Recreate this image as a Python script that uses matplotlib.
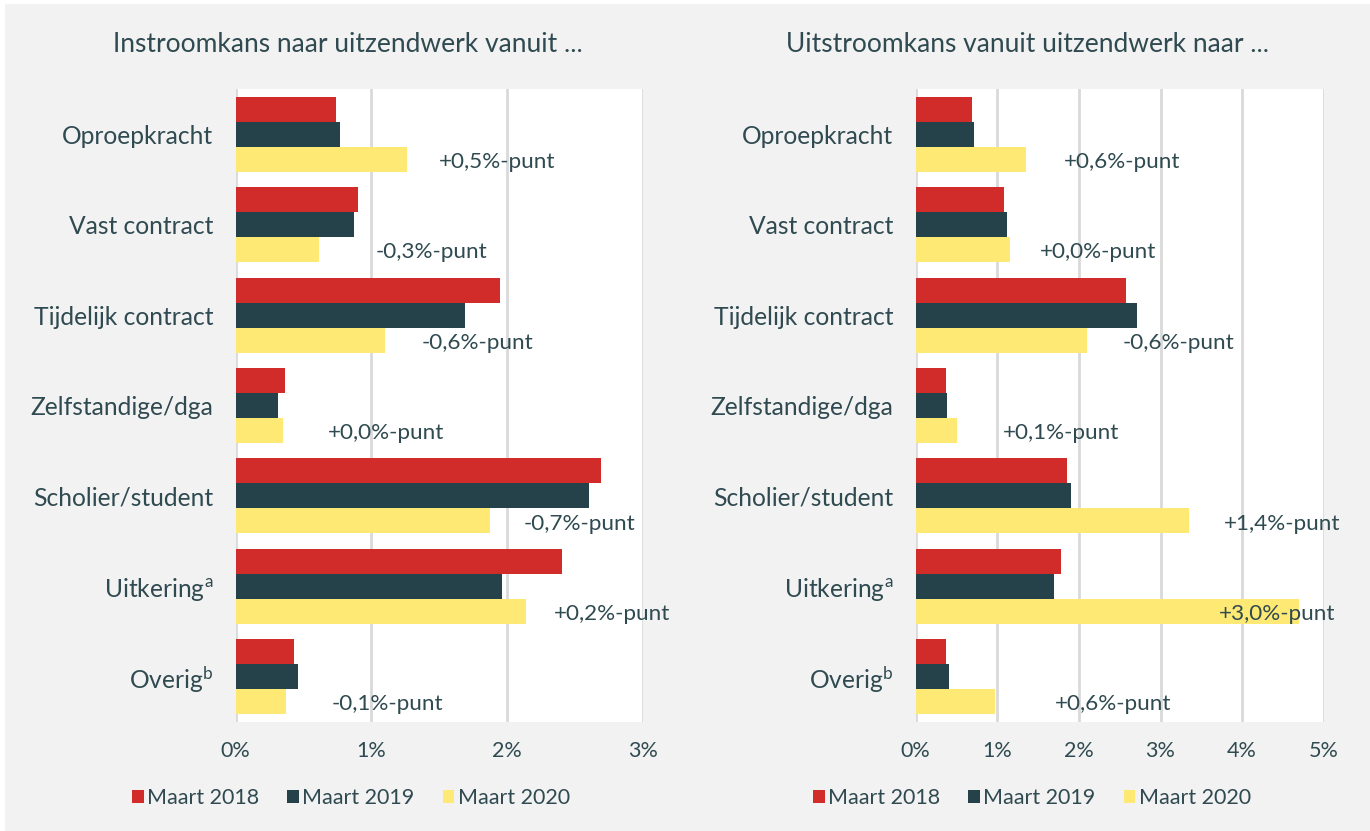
import matplotlib
matplotlib.use('Agg')
import matplotlib.pyplot as plt
from matplotlib.patches import Rectangle
import numpy as np

plt.rcParams['font.family'] = ['Lato', 'DejaVu Sans']
plt.rcParams['mathtext.fontset'] = 'custom'
plt.rcParams['mathtext.rm'] = 'Lato'
plt.rcParams['mathtext.it'] = 'Lato'

# Data (percentages)
categories = ['Oproepkracht', 'Vast contract', 'Tijdelijk contract', 'Zelfstandige/dga',
              'Scholier/student', r'Uitkering$^{\mathrm{a}}$', r'Overig$^{\mathrm{b}}$']
series = ['Maart 2018', 'Maart 2019', 'Maart 2020']

instroom_2018 = [0.74, 0.90, 1.95, 0.36, 2.69, 2.40, 0.43]
instroom_2019 = [0.77, 0.87, 1.69, 0.31, 2.60, 1.96, 0.46]
instroom_2020 = [1.26, 0.61, 1.10, 0.35, 1.87, 2.14, 0.37]
instroom_diff = ['+0,5%-punt', '-0,3%-punt', '-0,6%-punt', '+0,0%-punt',
                 '-0,7%-punt', '+0,2%-punt', '-0,1%-punt']

uitstroom_2018 = [0.69, 1.08, 2.58, 0.37, 1.85, 1.78, 0.37]
uitstroom_2019 = [0.72, 1.12, 2.71, 0.38, 1.90, 1.69, 0.41]
uitstroom_2020 = [1.35, 1.15, 2.10, 0.51, 3.35, 4.70, 0.97]
uitstroom_diff = ['+0,6%-punt', '+0,0%-punt', '-0,6%-punt', '+0,1%-punt',
                  '+1,4%-punt', '+3,0%-punt', '+0,6%-punt']

# where the difference labels start (x, in %)
instroom_label_x = [1.50, 1.03, 1.37, 0.68, 2.12, 2.34, 0.71]
uitstroom_label_x = [1.81, 1.52, 2.54, 1.07, 3.78, 3.72, 1.71]

colors = ['#d12c2a', '#25414a', '#fde974']
text_color = '#2f4a50'
grid_color = '#d9d9d9'
bg = '#f2f2f2'

W, H = 1370, 831
fig = plt.figure(figsize=(W / 100, H / 100), dpi=100, facecolor='white')
fig.patches.append(Rectangle((5 / W, 0), 1, 1 - 4 / H, transform=fig.transFigure,
                             facecolor=bg, edgecolor='none', zorder=-10))

ax_in = fig.add_axes([235.7 / W, 1 - 722 / H, 407.3 / W, 633 / H])
ax_out = fig.add_axes([915.7 / W, 1 - 722 / H, 408 / W, 633 / H])

bar_h = 0.276
y = np.arange(len(categories))


def draw_panel(ax, vals, diffs, label_x, xmax):
    for i, v in enumerate(vals):
        ax.barh(y + (i - 1) * bar_h, v, height=bar_h, color=colors[i],
                label=series[i], zorder=3)
    for yi, txt, lx in zip(y, diffs, label_x):
        ax.text(lx, yi + bar_h + 0.03, txt, ha='left', va='center', fontsize=16.2,
                color=text_color, zorder=4)
    ax.set_xlim(0, xmax)
    ax.set_ylim(len(categories) - 0.5, -0.5)
    ax.set_xticks(np.arange(0, xmax + 1))
    ax.set_xticklabels([f'{t}%' for t in range(xmax + 1)])
    ax.set_yticks(y)
    ax.set_yticklabels(categories)
    ax.tick_params(axis='both', length=0, colors=text_color)
    ax.tick_params(axis='x', labelsize=15.5, pad=14)
    ax.tick_params(axis='y', labelsize=17.7, pad=16)
    ax.grid(axis='x', color=grid_color, linewidth=2)
    ax.set_axisbelow(True)
    for s in ax.spines.values():
        s.set_visible(False)
    ax.set_facecolor('white')


draw_panel(ax_in, [instroom_2018, instroom_2019, instroom_2020],
           instroom_diff, instroom_label_x, 3)
draw_panel(ax_out, [uitstroom_2018, uitstroom_2019, uitstroom_2020],
           uitstroom_diff, uitstroom_label_x, 5)

fig.text(348 / W, 1 - 44 / H, 'Instroomkans naar uitzendwerk vanuit ...',
         ha='center', va='center', fontsize=19, color=text_color)
fig.text(1027 / W, 1 - 44 / H, 'Uitstroomkans vanuit uitzendwerk naar ...',
         ha='center', va='center', fontsize=19, color=text_color)

for ax, cx in [(ax_in, 351 / W), (ax_out, 1032 / W)]:
    h, l = ax.get_legend_handles_labels()
    leg = fig.legend(h, l, loc='center', bbox_to_anchor=(cx, 1 - 798 / H), ncol=3,
                     frameon=False, fontsize=15.5, handlelength=0.55, handleheight=0.55,
                     handletextpad=0.15, columnspacing=1.3, labelcolor=text_color)

fig.savefig('out.png', dpi=100, facecolor=fig.get_facecolor())
